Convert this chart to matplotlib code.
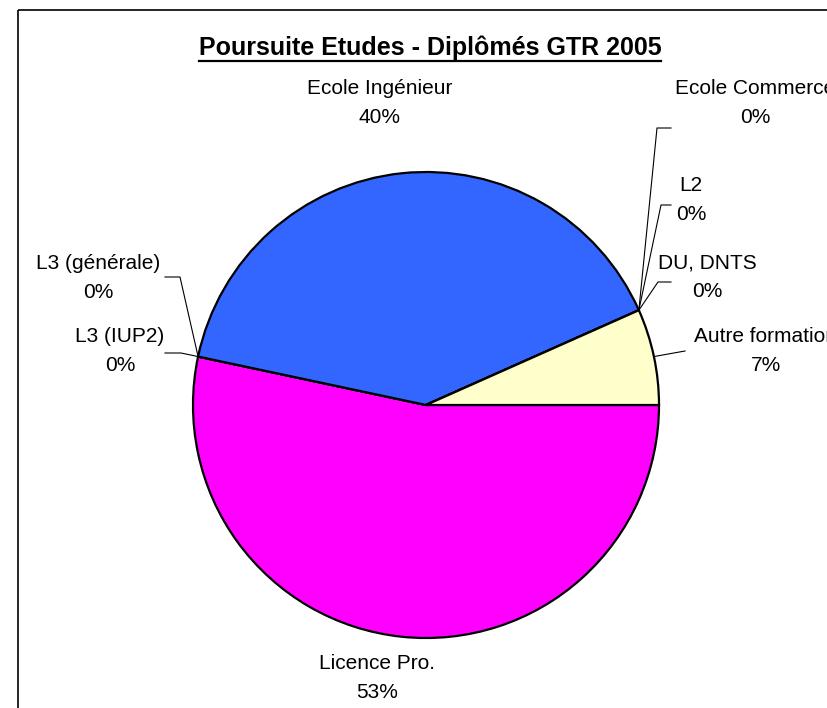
import numpy as np
import matplotlib
matplotlib.use("Agg")
import matplotlib.pyplot as plt
from matplotlib.patches import Rectangle

plt.rcParams["font.family"] = ["Liberation Sans", "DejaVu Sans"]

# data (counts of graduates, clockwise from 3 o'clock)
categories = ["Licence Pro.", "L3 (IUP2)", "L3 (générale)", "Ecole Ingénieur",
              "Ecole Commerce", "L2", "DU, DNTS", "Autre formation"]
counts = [8, 0, 0, 6, 0, 0, 0, 1]
colors = ["#FF00FF", "#FFFFFF", "#FFFFFF", "#3366FF",
          "#FFFFFF", "#FFFFFF", "#FFFFFF", "#FFFFCC"]
title = "Poursuite Etudes - Diplômés GTR 2005"

# layout, in pixels from the top-left corner
W, H = 828, 708
center_px = (426, 405)
radius = 233
label_pos = {
    "Licence Pro.": (377, 678),
    "L3 (IUP2)": (120, 351),
    "L3 (générale)": (98, 278),
    "Ecole Ingénieur": (380, 103),
    "Ecole Commerce": (755, 103),
    "L2": (691, 200),
    "DU, DNTS": (707, 277.5),
    "Autre formation": (766, 351),
}
# leader lines: elbow and end points, pixels
leaders = {
    "L3 (IUP2)": [(181, 353), (165, 353)],
    "L3 (générale)": [(180, 277), (165, 277)],
    "Ecole Commerce": [(657, 128), (671, 128)],
    "L2": [(661, 205), (671, 205)],
    "DU, DNTS": [(658, 282), (671, 282)],
    "Autre formation": [(685, 351)],
}

fig = plt.figure(figsize=(W / 100, H / 100), dpi=100)
ax = fig.add_axes([0, 0, 1, 1])

# inverted y axis flips the angles, so counterclock=True draws clockwise on screen
wedges, _ = ax.pie(counts, colors=colors, startangle=0, counterclock=True,
                   center=center_px, radius=radius, frame=True,
                   wedgeprops=dict(edgecolor="black", linewidth=1.6))
ax.set_xlim(0, W)
ax.set_ylim(H, 0)
ax.set_aspect("equal")
ax.axis("off")

# chart frame (right and bottom edges fall outside the image)
ax.add_patch(Rectangle((18, 10), W, H, fill=False, edgecolor="black", linewidth=1.2))

total = sum(counts)
angle = 0.0
for name, v in zip(categories, counts):
    a0 = angle
    angle += 360.0 * v / total
    mid = np.deg2rad((a0 + angle) / 2)
    anchor = (center_px[0] + radius * np.cos(mid), center_px[1] + radius * np.sin(mid))
    pct = round(100 * v / total)
    lx, ly = label_pos[name]
    ax.text(lx, ly, f"{name}\n{pct}%", ha="center", va="center",
            fontsize=15, linespacing=1.62)
    if name in leaders:
        pts = [anchor] + leaders[name]
        ax.plot([p[0] for p in pts], [p[1] for p in pts], color="black", linewidth=0.8)

t = ax.text(430, 47.5, title, ha="center", va="center", fontsize=18, fontweight="bold")
fig.canvas.draw()
bb = t.get_window_extent()
ax.plot([bb.x0, bb.x1], [60.5, 60.5], color="black", linewidth=1.6)

fig.savefig("out.png", dpi=100)
